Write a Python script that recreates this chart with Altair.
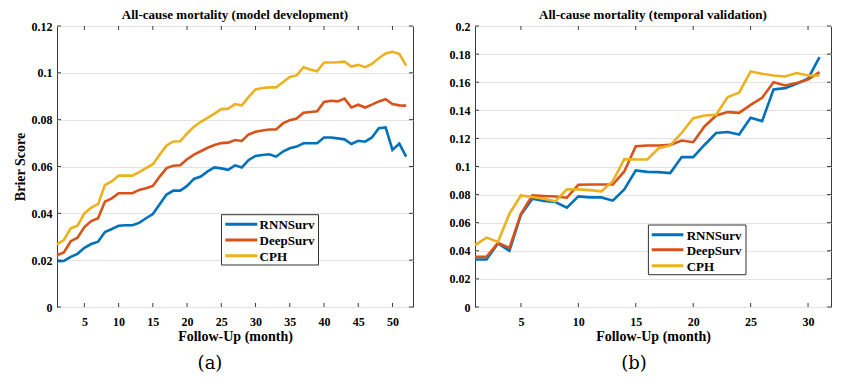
import altair as alt
import pandas as pd

models = ["RNNSurv", "DeepSurv", "CPH"]
colors = ["#0072BD", "#D95319", "#EDB120"]

# (a) model development, months 1..52
dev_months = list(range(1, 53))
dev_rnn = [0.0196, 0.0197, 0.0214, 0.0227, 0.0253, 0.0269, 0.0279, 0.0320, 0.0333, 0.0347,
           0.0349, 0.0349, 0.0359, 0.0379, 0.0397, 0.0439, 0.0480, 0.0497, 0.0497, 0.0517,
           0.0547, 0.0557, 0.0579, 0.0596, 0.0592, 0.0586, 0.0605, 0.0596, 0.0628, 0.0645,
           0.0649, 0.0652, 0.0642, 0.0664, 0.0678, 0.0685, 0.0699, 0.0699, 0.0699, 0.0724,
           0.0724, 0.0720, 0.0716, 0.0696, 0.0710, 0.0706, 0.0724, 0.0763, 0.0767, 0.0671,
           0.0698, 0.0642]
dev_deep = [0.0221, 0.0233, 0.0281, 0.0296, 0.0341, 0.0367, 0.0379, 0.0450, 0.0464, 0.0486,
            0.0486, 0.0486, 0.0500, 0.0507, 0.0517, 0.0557, 0.0593, 0.0603, 0.0605, 0.0631,
            0.0651, 0.0665, 0.0680, 0.0692, 0.0700, 0.0702, 0.0713, 0.0709, 0.0737, 0.0748,
            0.0754, 0.0758, 0.0758, 0.0784, 0.0798, 0.0805, 0.0830, 0.0833, 0.0836, 0.0876,
            0.0881, 0.0878, 0.0890, 0.0852, 0.0864, 0.0852, 0.0864, 0.0878, 0.0887, 0.0867,
            0.0861, 0.0860]
dev_cph = [0.0269, 0.0286, 0.0336, 0.0347, 0.0400, 0.0424, 0.0439, 0.0521, 0.0536, 0.0561,
           0.0561, 0.0561, 0.0576, 0.0593, 0.0610, 0.0650, 0.0690, 0.0707, 0.0708, 0.0741,
           0.0770, 0.0791, 0.0808, 0.0826, 0.0845, 0.0847, 0.0866, 0.0861, 0.0897, 0.0929,
           0.0935, 0.0938, 0.0938, 0.0960, 0.0982, 0.0989, 0.1024, 0.1014, 0.1007, 0.1044,
           0.1044, 0.1045, 0.1048, 0.1027, 0.1034, 0.1024, 0.1038, 0.1062, 0.1083, 0.1090,
           0.1081, 0.1031]

# (b) temporal validation, months 1..31
val_months = list(range(1, 32))
val_rnn = [0.0338, 0.0338, 0.0452, 0.0400, 0.0657, 0.0771, 0.0754, 0.0747, 0.0707, 0.0787,
           0.0780, 0.0780, 0.0757, 0.0837, 0.0972, 0.0962, 0.0960, 0.0953, 0.1067, 0.1067,
           0.1155, 0.1238, 0.1245, 0.1228, 0.1347, 0.1323, 0.1549, 0.1558, 0.1589, 0.1625,
           0.1779]
val_deep = [0.0357, 0.0357, 0.0456, 0.0421, 0.0664, 0.0794, 0.0790, 0.0787, 0.0778, 0.0870,
            0.0872, 0.0872, 0.0872, 0.0965, 0.1145, 0.1150, 0.1150, 0.1154, 0.1185, 0.1173,
            0.1287, 0.1363, 0.1387, 0.1382, 0.1439, 0.1489, 0.1600, 0.1577, 0.1594, 0.1618,
            0.1672]
val_cph = [0.0440, 0.0494, 0.0463, 0.0664, 0.0794, 0.0783, 0.0771, 0.0752, 0.0837, 0.0837,
           0.0832, 0.0823, 0.0896, 0.1052, 0.1050, 0.1050, 0.1130, 0.1150, 0.1240, 0.1344,
           0.1363, 0.1368, 0.1494, 0.1525, 0.1677, 0.1660, 0.1648, 0.1641, 0.1665, 0.1648,
           0.1648]

dev_xticks = [5, 10, 15, 20, 25, 30, 35, 40, 45, 50]
val_xticks = [5, 10, 15, 20, 25, 30]
dev_yticks = [0, 0.02, 0.04, 0.06, 0.08, 0.1, 0.12]
val_yticks = [0, 0.02, 0.04, 0.06, 0.08, 0.1, 0.12, 0.14, 0.16, 0.18, 0.2]

FONT = "Liberation Serif"
AX = "#3a3a3a"
W, H = 356, 281
TL = 4  # inward tick length


def panel(months, series, xdom, xticks, ydom, yticks, title, caption, cap_x,
          ytitle, box, line_x, text_x, rows):
    df = pd.DataFrame({
        "month": months * 3,
        "score": series[0] + series[1] + series[2],
        "model": [m for m in models for _ in months],
    })
    xscale = alt.Scale(domain=xdom, nice=False, zero=False)
    yscale = alt.Scale(domain=ydom, nice=False, zero=False)
    xenc = alt.X("month:Q", scale=xscale,
                 axis=alt.Axis(values=xticks, title="Follow-Up (month)", grid=False,
                               ticks=False, domain=False, labelPadding=9, titlePadding=2,
                               labelFont=FONT, labelFontSize=12, labelFontWeight="bold",
                               labelColor="black", titleFont=FONT, titleFontSize=14,
                               titleFontWeight="bold", titleColor="black"))
    yaxis_kw = dict(values=yticks, format=".2~f", grid=True, gridColor="#e2e2e2",
                    ticks=False, domain=False, labelPadding=5,
                    labelFont=FONT, labelFontSize=12, labelFontWeight="bold",
                    labelColor="black")
    if ytitle:
        yaxis_kw.update(title=ytitle, titlePadding=4, titleFont=FONT, titleFontSize=14,
                        titleFontWeight="bold", titleColor="black")
    else:
        yaxis_kw.update(title="")
    yenc = alt.Y("score:Q", scale=yscale, axis=alt.Axis(**yaxis_kw))

    lines = alt.Chart(df).mark_line(strokeWidth=2.6).encode(
        x=xenc, y=yenc,
        color=alt.Color("model:N", scale=alt.Scale(domain=models, range=colors), legend=None),
    )

    txdf = pd.DataFrame({"month": xticks})
    tydf = pd.DataFrame({"score": yticks})
    tick_bot = alt.Chart(txdf).mark_rule(color=AX, strokeWidth=1).encode(
        x=xenc, y=alt.value(H), y2=alt.value(H - TL))
    tick_top = alt.Chart(txdf).mark_rule(color=AX, strokeWidth=1).encode(
        x=xenc, y=alt.value(0), y2=alt.value(TL))
    tick_left = alt.Chart(tydf).mark_rule(color=AX, strokeWidth=1).encode(
        y=yenc, x=alt.value(0), x2=alt.value(TL))
    tick_right = alt.Chart(tydf).mark_rule(color=AX, strokeWidth=1).encode(
        y=yenc, x=alt.value(W), x2=alt.value(W - TL))

    one = pd.DataFrame({"k": [0]})
    layers = [lines, tick_bot, tick_top, tick_left, tick_right]
    bx0, bx1, by0, by1 = box
    layers.append(alt.Chart(one).mark_rect(fill="white", stroke="#333333", strokeWidth=1).encode(
        x=alt.value(bx0), x2=alt.value(bx1), y=alt.value(by0), y2=alt.value(by1)))
    for name, col, ry in zip(models, colors, rows):
        layers.append(alt.Chart(one).mark_rule(color=col, strokeWidth=3).encode(
            x=alt.value(line_x[0]), x2=alt.value(line_x[1]), y=alt.value(ry)))
        layers.append(alt.Chart(one).mark_text(
            font=FONT, fontSize=13, fontWeight="bold", align="left", baseline="middle",
            color="black").encode(x=alt.value(text_x), y=alt.value(ry + 1), text=alt.value(name)))
    layers.append(alt.Chart(one).mark_text(
        font="DejaVu Serif", fontSize=18, align="center", baseline="middle",
        color="black").encode(x=alt.value(cap_x), y=alt.value(338), text=alt.value(caption)))

    return alt.layer(*layers).properties(
        width=W, height=H,
        title=alt.TitleParams(title, font=FONT, fontSize=13, fontWeight="bold",
                              color="black", offset=-2, anchor="middle"),
    )


left = panel(dev_months, [dev_rnn, dev_deep, dev_cph], [1, 53], dev_xticks, [0, 0.12],
             dev_yticks, "All-cause mortality (model development)", "(a)", 153,
             "Brier Score", (164.5, 261.5, 188.7, 239), (168.3, 200.3), 202.6,
             [198.3, 214, 229.7])
right = panel(val_months, [val_rnn, val_deep, val_cph], [1, 32], val_xticks, [0, 0.2],
              val_yticks, "All-cause mortality (temporal validation)", "(b)", 159,
              None, (173.4, 271, 199, 248.7), (176.7, 208.4), 211.7,
              [208.7, 223.7, 239.7])

chart = alt.hconcat(left, right, spacing=34).properties(
    padding={"left": 4, "top": 0, "right": 0, "bottom": 0},
    background="white",
).configure_view(
    stroke=AX, strokeWidth=1
)

chart.save("out.html", embed_options={"renderer": "svg", "actions": False})
